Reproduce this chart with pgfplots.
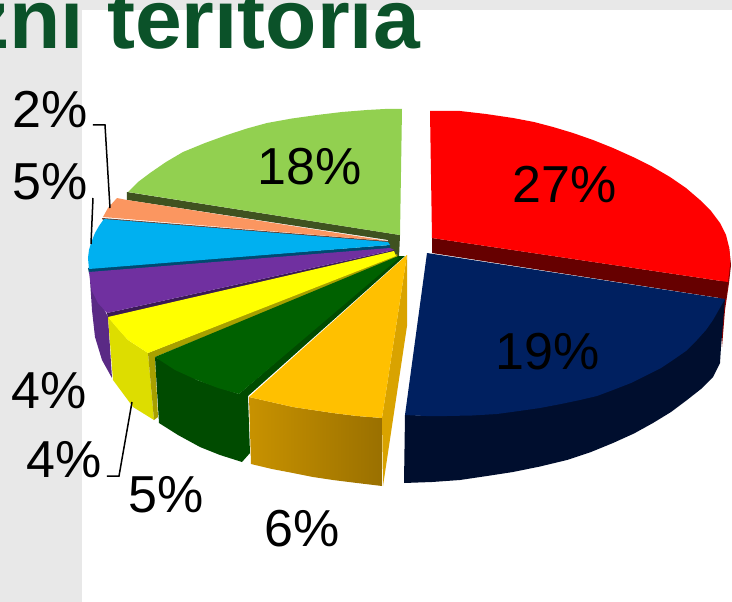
\documentclass[border=0pt]{standalone}
\usepackage{pgfplots}
\pgfplotsset{compat=1.18}
\usepackage{fontspec}
\setmainfont{Liberation Sans}
\newcommand{\lab}[3]{\node[anchor=base west,inner sep=0pt,text=black,font=\fontsize{52}{52}\selectfont] at (axis cs:#1,#2) {#3};}
\begin{document}
\begin{tikzpicture}[x=1pt,y=1pt]
\path[use as bounding box,clip] (0,0) rectangle (732,602);
\begin{axis}[at={(0,0)},anchor=south west,scale only axis,width=732pt,height=602pt,
  xmin=0,xmax=732,ymin=0,ymax=602,y dir=reverse,hide axis,clip=false]
% background
\addplot[fill=white,draw=none] coordinates {(0,0)(732,0)(732,602)(0,602)};
\addplot[fill=black!9,draw=none] coordinates {(0,0)(732,0)(732,10)(82,10)(82,602)(0,602)};
% green slice
\addplot[fill={rgb,255:red,63;green,82;blue,32},draw=none] coordinates {(127,192)(400,235)(399,258)(388,252)(388,240)(127,200)};
\addplot[fill={rgb,255:red,146;green,208;blue,80},draw=none] coordinates {(128,192)(138,182)(150,173)(166,162)(183,152)(205,143)(227,135)(247,128.5)(267,123)(292,118.5)(317,115)(342,112)(367,110)(385,109)(402,109)(400,235)};
% light orange
\addplot[fill={rgb,255:red,107;green,64;blue,48},draw=none] coordinates {(102,218)(388,241)(388,244)(103,220)};
\addplot[fill={rgb,255:red,251;green,150;blue,96},draw=none] coordinates {(117,198)(127,200)(388,241)(103,217)(108,208)};
% light blue
\addplot[fill={rgb,255:red,0;green,74;blue,112},draw=none] coordinates {(88,268)(390,245)(390,249)(89,273)};
\addplot[fill={rgb,255:red,0;green,176;blue,240},draw=none] coordinates {(104,219)(99,226)(95,233)(91,243)(89,250)(88,258)(89,269)(390,245)(388,242)};
% purple
\addplot[fill={rgb,255:red,90;green,42;blue,133},draw=none] coordinates {(90,280)(91,295)(92,310)(95,337)(102,360)(112,378)(108,317)};
\addplot[fill={rgb,255:red,59;green,26;blue,85},draw=none] coordinates {(107,313)(394,250)(394,253)(108,318)};
\addplot[fill={rgb,255:red,112;green,48;blue,160},draw=none] coordinates {(89,272)(90,280)(92,291)(98,303)(107,313)(394,250)(390,248)};
% yellow
\addplot[fill={rgb,255:red,221;green,221;blue,0},draw=none] coordinates {(108,317)(128,340)(148,353)(154,420)(133,407)(113,380)};
\addplot[fill={rgb,255:red,168;green,160;blue,0},draw=none] coordinates {(397,254)(148,353)(154,420)(158,417)(155,357)(398,258)};
\addplot[fill={rgb,255:red,255;green,255;blue,0},draw=none] coordinates {(108,317)(118,329)(128,340)(148,353)(396,256)(394,251)};
% dark green
\addplot[fill={rgb,255:red,0;green,75;blue,0},draw=none] coordinates {(155,357)(197,380)(239,394)(398,256)(405,256)(248,396)(250,453)(242,462)(220,455)(200,447)(178,435)(159,423)};
\addplot[fill={rgb,255:red,0;green,97;blue,0},draw=none] coordinates {(155,357)(175,370)(197,380)(218,388)(239,394)(399,258)(396,257)};
% orange
\addplot[fill={rgb,255:red,217;green,163;blue,0},draw=none] coordinates {(407,255)(382,418)(383,486)(407,326)};
\addplot[draw=none,left color={rgb,255:red,200;green,146;blue,0},right color={rgb,255:red,154;green,112;blue,0}] coordinates {(249,397)(271,402)(293,407)(313,410)(333,413)(357,416)(382,418)(382,486)(357,483)(333,480)(313,477)(293,473)(272,469)(251,464)};
\addplot[fill={rgb,255:red,255;green,192;blue,0},draw=none] coordinates {(407,255)(382,418)(357,416)(333,413)(313,410)(293,407)(271,402)(249,397)};
% red
\addplot[fill={rgb,255:red,139;green,0;blue,0},draw=none] coordinates {(729,247)(731,265)(729,283)(725,310)(722,347)(720,300)};
\addplot[fill={rgb,255:red,102;green,0;blue,0},draw=none] coordinates {(432,238)(728,282)(726,299)(432,253)};
\addplot[fill=red,draw=none] coordinates {(430,111)(460,111)(486,114)(513,118)(534,122)(553,127)(573,133)(593,140)(613,148)(633,157)(652,166.5)(670,177)(686,188)(700,200)(711,211)(720,223)(726,235)(729,247)(730,256)(730,265)(728,282)(432,238)};
% navy
\addplot[fill={rgb,255:red,0;green,14;blue,46},draw=none] coordinates {(405,415)(447,416)(725,299)(721,347)(720,363)(713,377)(701,389)(687,400)(671,412)(653,423)(634,433.5)(613,443)(591,452)(567,460)(540,466.5)(513,472)(487,476)(460,480)(432,482)(404,483)};
\addplot[fill={rgb,255:red,0;green,32;blue,96},draw=none] coordinates {(427,253)(725,299)(713,320)(706,330)(697,340)(686,351)(673,360)(661,368)(647,375)(631,383)(613,390)(597,396)(580,400)(561,404)(540,408)(519,411)(497,414)(472,415.5)(447,416)(426,416)(405,415)};
% leader lines
\addplot[black,line width=1.5pt] coordinates {(93,125)(105,125)(110,208)};
\addplot[black,line width=1.5pt] coordinates {(93,198)(91,244)};
\addplot[black,line width=1.5pt] coordinates {(107,476)(119,476)(132,402)};
% labels
\lab{12}{128}{2\%}
\lab{12}{200}{5\%}
\lab{257}{185}{18\%}
\lab{512}{202}{27\%}
\lab{495}{369}{19\%}
\lab{11}{408}{4\%}
\lab{26}{477}{4\%}
\lab{128}{512}{5\%}
\lab{264}{546}{6\%}
\node[anchor=base west,inner sep=0pt,text={rgb,255:red,11;green,82;blue,41},font=\fontsize{84}{84}\selectfont\bfseries] at (axis cs:-33,48.5) {zni teritoria};
\end{axis}
\end{tikzpicture}
\end{document}
